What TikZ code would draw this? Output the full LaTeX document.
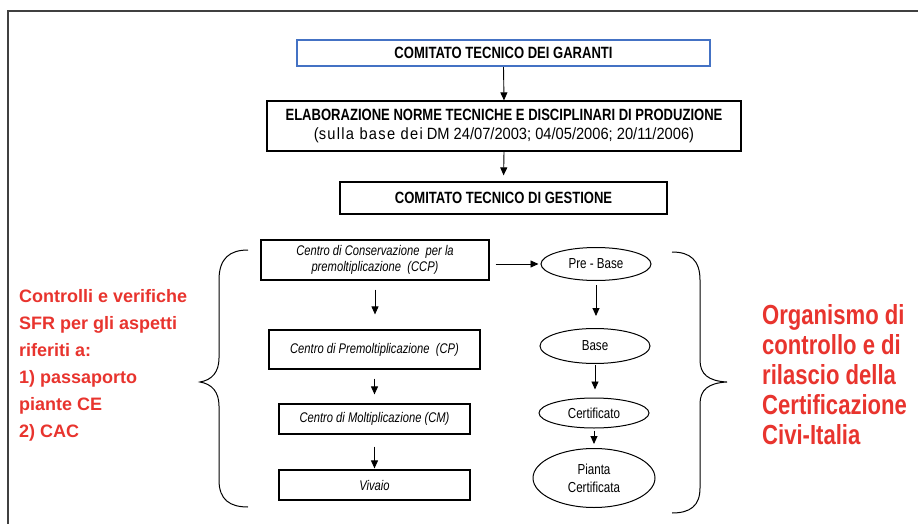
\documentclass[tikz,border=0pt]{standalone}
\usepackage{fontspec}
\setmainfont{Liberation Sans}[FakeStretch=0.8]
\newfontfamily\plainfont{Liberation Sans}
\usepackage{xcolor}
\usepackage{tikz}
\usetikzlibrary{arrows.meta,shapes.geometric}
\definecolor{garblue}{RGB}{68,114,196}
\definecolor{civired}{RGB}{232,52,46}
\tikzset{
    box/.style={draw, line width=1.2pt, inner sep=0pt, align=center},
    oval/.style={draw, ellipse, line width=1pt, inner sep=0pt, align=center, font=\fontsize{14.5}{18}\selectfont},
    flow/.style={draw, line width=0.9pt, -{Triangle[length=8pt,width=7pt]}},
    curly/.style={draw, line width=1pt},
    redtext/.style={anchor=north west, inner sep=0pt, align=left, text=civired},
}

\begin{document}
\begin{tikzpicture}[x=1pt, y=-1pt]
        \useasboundingbox (0,0) rectangle (918,524);
        \coordinate (fa) at (8,524);
        \coordinate (fb) at (8,11);
        \coordinate (fc) at (918,11);
        \path[draw, line width=1.5pt, black!75] (fa) -- (fb) -- (fc);

        \node[box, draw=garblue, line width=2.2pt, minimum width=413pt, minimum height=26pt, font=\bfseries\fontsize{16.3}{19}\selectfont] (garanti) at (503.5,53) {COMITATO TECNICO DEI GARANTI};
        \node[box, minimum width=474pt, minimum height=50pt, font=\fontsize{16.3}{19}\selectfont] (norme) at (504,126) {\textbf{ELABORAZIONE NORME TECNICHE E DISCIPLINARI DI PRODUZIONE}\\{\addfontfeature{FakeStretch=0.9}({\addfontfeature{LetterSpace=8}sulla base dei} DM 24/07/2003; 04/05/2006; 20/11/2006)}};
        \node[box, minimum width=327pt, minimum height=32pt, font=\bfseries\fontsize{16.3}{19}\selectfont] (gestione) at (503.5,198) {COMITATO TECNICO DI GESTIONE};

        \foreach \n/\x/\y/\w/\h/\t in {ccp/375/260/228/40/{Centro di Conservazione~ per la\\premoltiplicazione~ (CCP)},
                cp/374.5/349.5/211/39/{Centro di Premoltiplicazione~ (CP)},
                cm/374.5/419/191/30/{Centro di Moltiplicazione (CM)},
                vivaio/374.5/485/191/30/{Vivaio}}{
            \node[box, minimum width=\w pt, minimum height=\h pt, font=\itshape\fontsize{14}{16}\selectfont] (\n) at (\x,\y) {\t};
        }
        \foreach \n/\x/\y/\w/\h/\t in {prebase/596/264/110/33/{Pre - Base},
                base/595/346/110/35/{Base},
                cert/594/413/110/30/{Certificato},
                pianta/594/478/122/59/{Pianta\\Certificata}}{
            \node[oval, minimum width=\w pt, minimum height=\h pt] (\n) at (\x,\y) {\t};
        }

        \path[flow] (garanti.south) -- (norme.north);
        \path[flow, shorten >=6pt] (norme.south) -- (gestione.north);
        \foreach \a/\b/\s/\e in {ccp/cp/9pt/15pt, cp/cm/9pt/9pt, cm/vivaio/12pt/1pt, prebase/base/4pt/12pt, base/cert/1pt/8pt, cert/pianta/2pt/4pt}{
            \path[flow, shorten <=\s, shorten >=\e] (\a.south) -- (\a.south |- \b.north);
        }
        \path[flow, shorten <=6pt, shorten >=2pt] (ccp.east |- prebase) -- (prebase.west);

        \path[curly] (248,250) .. controls (230,250) and (219,258) .. (219,280) -- (219,358)
            .. controls (219,372) and (212,380) .. (200,382) .. controls (212,384) and (219,392) .. (219,406)
            -- (219,480) .. controls (219,500) and (230,507) .. (248,507);
        \path[curly] (672,252) .. controls (690,252) and (700,260) .. (700,280) -- (700,360)
            .. controls (700,374) and (708,381) .. (727,382) .. controls (708,383) and (700,390) .. (700,404)
            -- (700,488) .. controls (700,506) and (690,513) .. (672,513);

        \node[redtext, font=\plainfont\bfseries\fontsize{18}{27}\selectfont] (sfr) at (19,289) {Controlli e verifiche\\SFR per gli aspetti\\riferiti a:\\1) passaporto\\piante CE\\2) CAC};
        \node[redtext, font=\bfseries\fontsize{27.6}{30}\selectfont] (organismo) at (762,304) {Organismo di\\controllo e di\\rilascio della\\Certificazione\\Civi-Italia};
\end{tikzpicture}
\end{document}
